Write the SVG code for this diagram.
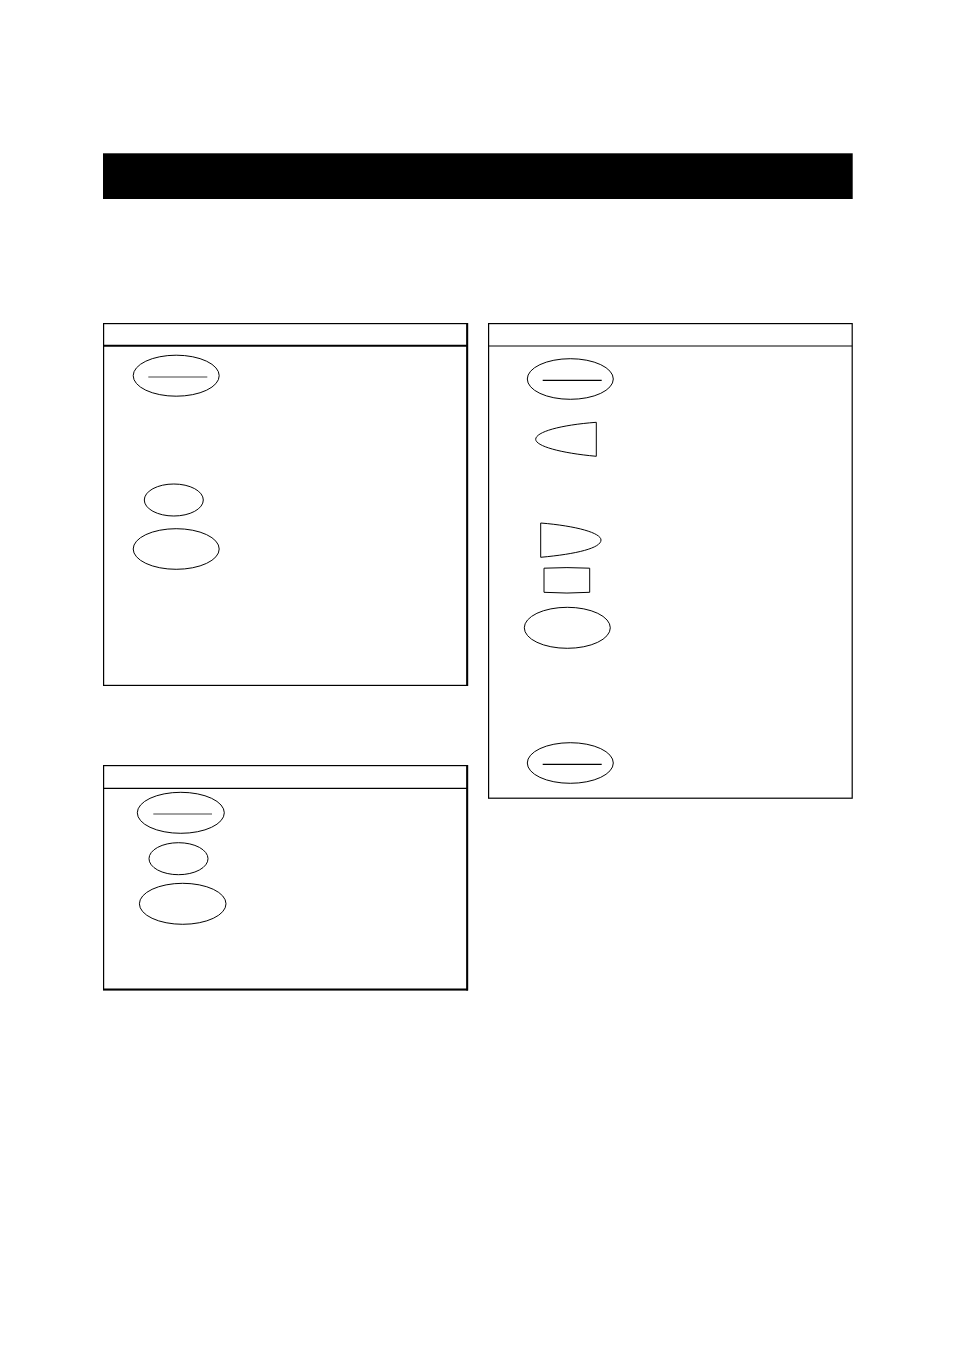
<svg xmlns="http://www.w3.org/2000/svg" width="954" height="1351" viewBox="0 0 954 1351">
<style>
.box{fill:none;stroke:#000;stroke-width:1.2}
.thick{fill:none;stroke:#000;stroke-width:2}
.hl{stroke:#000;stroke-width:1.2}
.sh{fill:none;stroke:#000;stroke-width:1}
.ln{stroke:#444;stroke-width:1.2}
</style>
<rect width="954" height="1351" fill="#fff"/>
<rect id="titlebar" x="103" y="153.3" width="749.7" height="45.7" fill="#000"/>
<g id="panel1">
<rect class="box" x="103.6" y="323.6" width="363.6" height="361.8"/>
<line class="thick" x1="104" y1="345.7" x2="467" y2="345.7"/>
<line class="thick" x1="467.2" y1="323" x2="467.2" y2="686"/>
<g id="p1-e1"><ellipse class="sh" cx="176.2" cy="375.7" rx="43" ry="20.5"/><line class="ln" x1="148.3" y1="377" x2="207.3" y2="377"/></g>
<g id="p1-e2"><ellipse class="sh" cx="173.8" cy="500" rx="29.5" ry="16"/></g>
<g id="p1-e3"><ellipse class="sh" cx="176.2" cy="549" rx="43" ry="20.3"/></g>
</g>
<g id="panel2">
<rect class="box" x="488.6" y="323.6" width="363.6" height="474.6"/>
<line class="hl" x1="488.6" y1="346" x2="852.2" y2="346"/>
<g id="p2-e1"><ellipse class="sh" cx="570.3" cy="379" rx="43" ry="20.3"/><line class="hl" x1="542.7" y1="380.3" x2="601.7" y2="380.3"/></g>
<g id="p2-left"><path class="sh" d="M596.3,422.3 L596.3,456.3 C560,453 535.7,446 535.7,439.3 C535.7,432 560,425 596.3,422.3 Z"/></g>
<g id="p2-right"><path class="sh" d="M540.7,523 C577,526 601,533 601,540 C601,548 577,554 540.7,557.3 Z"/></g>
<g id="p2-rect"><path class="sh" d="M544,568.2 Q567,567 589.7,568.2 L589.7,592.3 Q567,593.8 544,592.3 Z"/></g>
<g id="p2-e2"><ellipse class="sh" cx="567.3" cy="627.8" rx="43" ry="20.5"/></g>
<g id="p2-e3"><ellipse class="sh" cx="570.3" cy="763" rx="43" ry="20.3"/><line class="hl" x1="542.7" y1="764.3" x2="601.7" y2="764.3"/></g>
</g>
<g id="panel3">
<rect class="box" x="103.6" y="765.6" width="363.6" height="224"/>
<line class="hl" x1="104" y1="788.3" x2="467" y2="788.3"/>
<line class="thick" x1="467.2" y1="765" x2="467.2" y2="990.5"/>
<line class="thick" x1="103" y1="989.6" x2="468" y2="989.6"/>
<g id="p3-e1"><ellipse class="sh" cx="180.8" cy="812.8" rx="43.5" ry="20.5"/><line class="ln" x1="153.3" y1="814" x2="212" y2="814"/></g>
<g id="p3-e2"><ellipse class="sh" cx="178.5" cy="858.7" rx="29.5" ry="16"/></g>
<g id="p3-e3"><ellipse class="sh" cx="182.7" cy="903.8" rx="43.3" ry="20.5"/></g>
</g>
<g id="connectors"></g>
</svg>
